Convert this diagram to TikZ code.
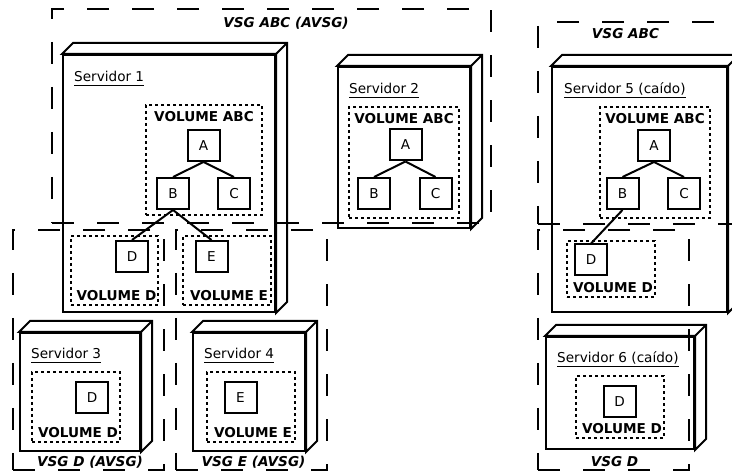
\documentclass[tikz,border=0pt]{standalone}
\usepackage{fontspec}
\setmainfont{DejaVu Sans}
\begin{document}
\begin{tikzpicture}[x=1pt, y=-1pt, line join=miter,
  font=\fontsize{13.6}{16}\selectfont,
  servidor/.style={draw, line width=2pt, fill=white, inner sep=0pt},
  srvnome/.style={anchor=base west, inner sep=0pt},
  volume/.style={draw, line width=1.8pt, dash pattern=on 3pt off 3pt, inner sep=0pt},
  volnome/.style={font=\fontsize{13.6}{16}\selectfont\bfseries, inner sep=0pt},
  bloco/.style={draw, line width=2pt, fill=white, minimum width=32pt, minimum height=31pt, inner sep=0pt},
  ramo/.style={line width=2pt},
  grupo/.style={draw, line width=2pt, dash pattern=on 22pt off 23pt, inner sep=0pt},
  gruponome/.style={font=\fontsize{13.6}{16}\selectfont\bfseries\itshape, anchor=base, inner sep=0pt}]
\useasboundingbox (0,0) rectangle (732,473);
\clip (0,0) rectangle (732,473);

% servidores
\node[servidor, minimum width=212pt, minimum height=257pt] (s1) at (169,183.5) {};
\node[servidor, minimum width=132pt, minimum height=161pt] (s2) at (404,147.5) {};
\node[servidor, minimum width=120pt, minimum height=118pt] (s3) at (80,392) {};
\node[servidor, minimum width=112pt, minimum height=118pt] (s4) at (249,392) {};
\node[servidor, minimum width=175pt, minimum height=245pt] (s5) at (639.5,189.5) {};
\node[servidor, minimum width=148pt, minimum height=112pt] (s6) at (620,393) {};
\foreach \s in {s1,s2,s3,s4,s5,s6} {
  \draw[ramo, fill=white] (\s.north west) -- ++(11,-11) -| ([shift={(11,-11)}]\s.south east)
    -- (\s.south east) -- (\s.north east) -- cycle;
  \draw[ramo] (\s.north east) -- ++(11,-11);
}

\node[srvnome] (s1n) at ([shift={(12,28)}]s1.north west) {Servidor 1};
\node[srvnome] (s2n) at ([shift={(12,28)}]s2.north west) {Servidor 2};
\node[srvnome] (s3n) at ([shift={(12,27)}]s3.north west) {Servidor 3};
\node[srvnome] (s4n) at ([shift={(12,27)}]s4.north west) {Servidor 4};
\node[srvnome] (s5n) at ([shift={(13,28)}]s5.north west) {Servidor 5 (caído)};
\node[srvnome] (s6n) at ([shift={(12,27)}]s6.north west) {Servidor 6 (caído)};
\foreach \n in {s1n,s2n,s3n,s4n,s5n,s6n}
  \draw[line width=1pt] ([shift={(0,4)}]\n.base west) -- ([shift={(0,4)}]\n.base east);

% volumes
\node[volume, minimum width=116pt, minimum height=110pt] (v1abc) at (204,160) {};
\node[volume, minimum width=87pt, minimum height=69pt] (v1d) at (114.5,270.5) {};
\node[volume, minimum width=88pt, minimum height=69pt] (v1e) at (227,270.5) {};
\node[volume, minimum width=110pt, minimum height=111pt] (v2abc) at (404,162.5) {};
\node[volume, minimum width=110pt, minimum height=111pt] (v5abc) at (655,162.5) {};
\node[volume, minimum width=88pt, minimum height=56pt] (v5d) at (611,269) {};
\node[volume, minimum width=88pt, minimum height=70pt] (v3d) at (76,407) {};
\node[volume, minimum width=88pt, minimum height=70pt] (v4e) at (251,407) {};
\node[volume, minimum width=88pt, minimum height=62pt] (v6d) at (620,407) {};

\node[volnome, anchor=north] (v1abcn) at ([shift={(0,7.5)}]v1abc.north) {VOLUME ABC};
\node[volnome, anchor=north] (v2abcn) at ([shift={(0,7.5)}]v2abc.north) {VOLUME ABC};
\node[volnome, anchor=north] (v5abcn) at ([shift={(0,7.5)}]v5abc.north) {VOLUME ABC};
\node[volnome, anchor=south] (v1dn) at ([shift={(2,-5)}]v1d.south) {VOLUME D};
\node[volnome, anchor=south] (v1en) at ([shift={(2,-5)}]v1e.south) {VOLUME E};
\node[volnome, anchor=south] (v5dn) at ([shift={(2,-5)}]v5d.south) {VOLUME D};
\node[volnome, anchor=south] (v3dn) at ([shift={(2,-5)}]v3d.south) {VOLUME D};
\node[volnome, anchor=south] (v4en) at ([shift={(2,-5)}]v4e.south) {VOLUME E};
\node[volnome, anchor=south] (v6dn) at ([shift={(2,-5)}]v6d.south) {VOLUME D};

% blocos
\node[bloco] (a1) at (203.5,145.5) {A};
\node[bloco] (b1) at (173,193.5) {B};
\node[bloco] (c1) at (234,193.5) {C};
\node[bloco] (d1) at (132,256.5) {D};
\node[bloco] (e1) at (211.5,256.5) {E};
\node[bloco] (a2) at (405.5,145) {A};
\node[bloco] (b2) at (374,193.5) {B};
\node[bloco] (c2) at (435.5,193.5) {C};
\node[bloco] (a5) at (654,145.5) {A};
\node[bloco] (b5) at (622.5,193.5) {B};
\node[bloco] (c5) at (684,193.5) {C};
\node[bloco] (d5) at (591,260) {D};
\node[bloco] (d3) at (92,397.5) {D};
\node[bloco] (e4) at (240.5,397.5) {E};
\node[bloco] (d6) at (619.5,401.5) {D};

\draw[ramo] (a1.south) -- (b1.north);
\draw[ramo] (a1.south) -- (c1.north);
\draw[ramo] (b1.south) -- (d1.north);
\draw[ramo] (b1.south) -- (e1.north);
\draw[ramo] (a2.south) -- (b2.north);
\draw[ramo] (a2.south) -- (c2.north);
\draw[ramo] (a5.south) -- (b5.north);
\draw[ramo] (a5.south) -- (c5.north);
\draw[ramo] (b5.south) -- (d5.north);

% grupos
\node[grupo, minimum width=439pt, minimum height=214pt] (g1) at (271.5,116) {};
\node[grupo, minimum width=151pt, minimum height=240pt] (g2) at (88.5,350) {};
\node[grupo, minimum width=151pt, minimum height=240pt] (g3) at (251.5,350) {};
\node[grupo, minimum width=212pt, minimum height=202pt] (g4) at (644,123) {};
\node[grupo, minimum width=151pt, minimum height=240pt] (g5) at (613.5,350) {};

\node[gruponome] (g1n) at (286,28) {VSG ABC (AVSG)};
\node[gruponome] (g2n) at (90,467) {VSG D (AVSG)};
\node[gruponome] (g3n) at (253.5,467) {VSG E (AVSG)};
\node[gruponome] (g4n) at (625.5,39) {VSG ABC};
\node[gruponome] (g5n) at (614.5,467) {VSG D};
\end{tikzpicture}
\end{document}
